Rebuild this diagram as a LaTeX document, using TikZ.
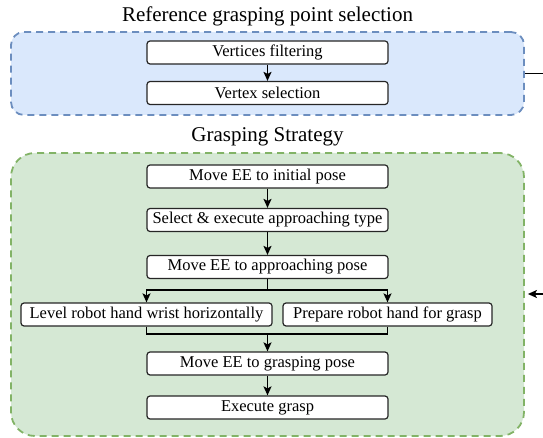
\documentclass[tikz,border=0pt]{standalone}
\usepackage{fontspec}
\setmainfont{Liberation Serif}
\usepackage{tikz}
\usetikzlibrary{arrows.meta}

\definecolor{refFill}{HTML}{DAE8FC}
\definecolor{refLine}{HTML}{6C8EBF}
\definecolor{stratFill}{HTML}{D5E8D4}
\definecolor{stratLine}{HTML}{82B366}

\tikzset{
    stepbox/.style={draw=black!85, fill=white, line width=1.2pt, rounded corners=3pt,
        minimum height=23pt, inner sep=0pt, font=\fontsize{16.5}{18}\selectfont},
    midbox/.style={stepbox, minimum width=241pt},
    group/.style={line width=1.8pt, dash pattern=on 7pt off 5pt},
    grouptitle/.style={anchor=base, font=\fontsize{21}{24}\selectfont},
    link/.style={line width=1.3pt},
    flow/.style={link, -{Stealth[length=9pt,width=8pt,inset=2pt]}}
}

\begin{document}
\begin{tikzpicture}[x=1pt,y=-1pt]
    \useasboundingbox (0,0) rectangle (543,438);

    % reference grasping point selection
    \node[grouptitle] (reftitle) at (267.5,22) {Reference grasping point selection};
    \node[group, draw=refLine, fill=refFill, rounded corners=13pt,
          minimum width=513pt, minimum height=83pt] (refgroup) at (267.5,73.5) {};
    \node[midbox] (filt) at (267.5,52.5) {Vertices filtering};
    \node[midbox] (vsel) at (267.5,93) {Vertex selection};
    \draw[flow] (filt) -- (vsel);

    % grasping strategy
    \node[grouptitle] (strattitle) at (267.5,142) {Grasping Strategy};
    \node[group, draw=stratLine, fill=stratFill, rounded corners=24pt,
          minimum width=513pt, minimum height=283pt] (stratgroup) at (267.5,294.5) {};
    \node[midbox] (init) at (267.5,176.5) {Move EE to initial pose};
    \node[midbox] (exectype) at (267.5,220) {Select \& execute approaching type};
    \node[midbox] (appr) at (267.5,267) {Move EE to approaching pose};
    \node[stepbox, minimum width=251pt] (level) at (146.5,314.5) {Level robot hand wrist horizontally};
    \node[stepbox, minimum width=209pt] (prep) at (387.5,314.5) {Prepare robot hand for grasp};
    \node[midbox] (grasppose) at (267.5,363.5) {Move EE to grasping pose};
    \node[midbox] (exec) at (267.5,407.5) {Execute grasp};

    \draw[flow] (init) -- (exectype);
    \draw[flow] (exectype) -- (appr);

    % split into the two hand steps and join again
    \coordinate (split) at (267.5,290);
    \coordinate (join) at (267.5,334);
    \draw[link] (appr) -- (split);
    \draw[flow] (split) -| (level);
    \draw[flow] (split) -| (prep);
    \draw[link] (level) |- (join) -| (prep);
    \draw[flow] (join) -- (grasppose);
    \draw[flow] (grasppose) -- (exec);

    % link between the two groups, running off to the right
    \coordinate (refout) at (543,73.5);
    \coordinate (stratin) at (543,294);
    \draw[link] (refgroup.east) -- (refout);
    \draw[flow, shorten >=3pt] (stratin) -- (stratgroup.east |- stratin);
\end{tikzpicture}
\end{document}
